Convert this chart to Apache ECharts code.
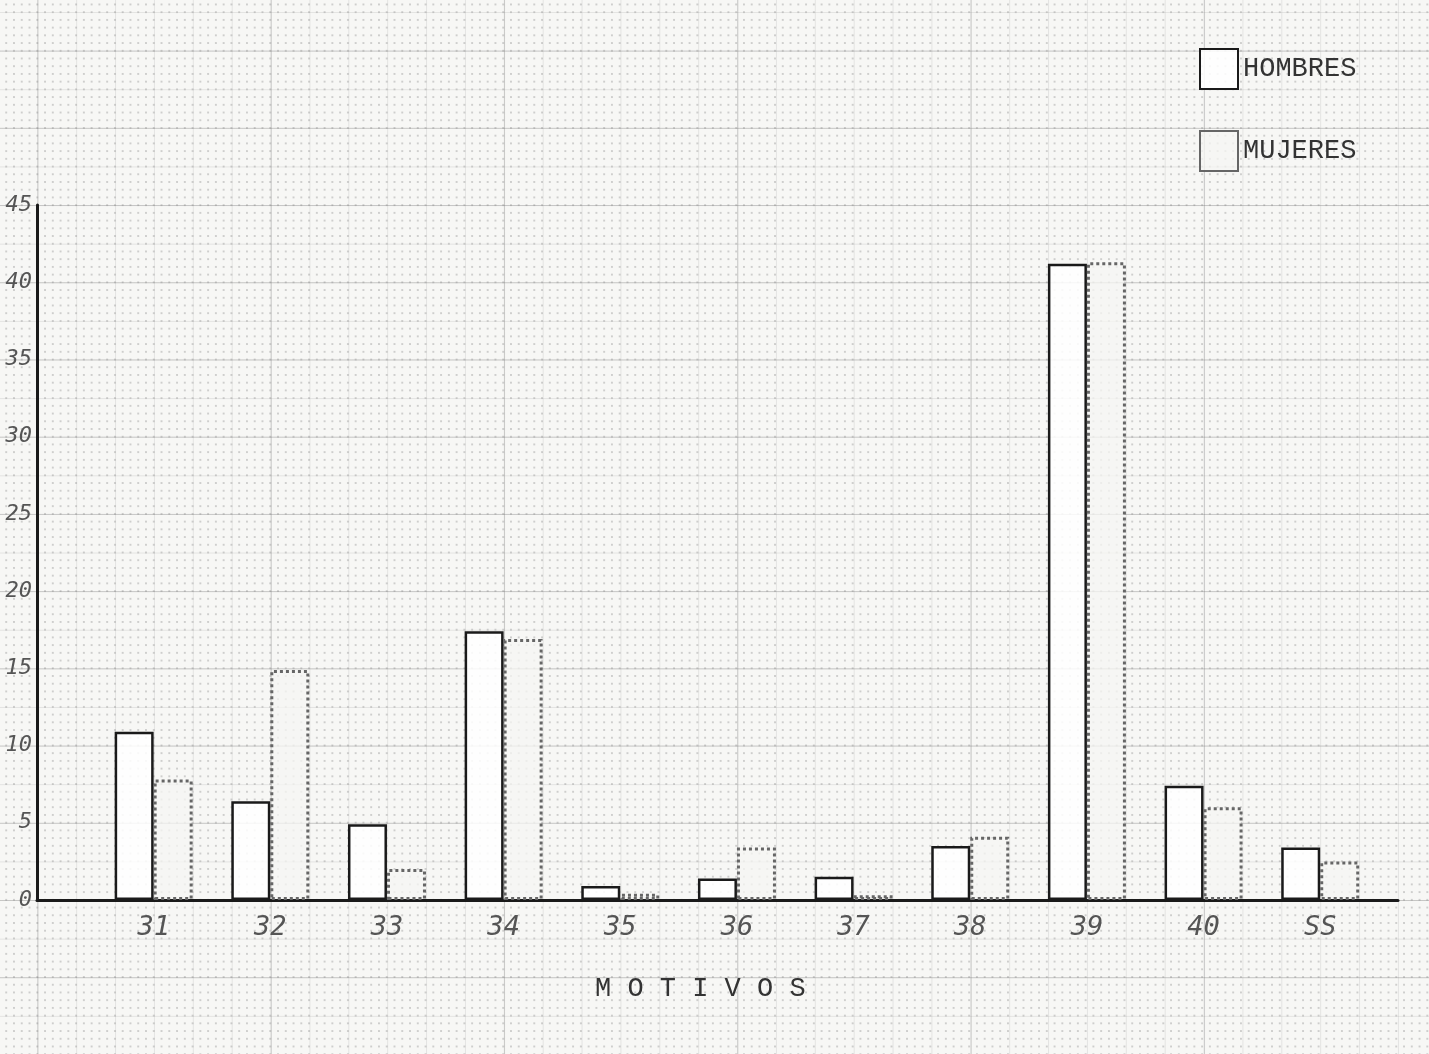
<!DOCTYPE html>
<html>
<head>
<meta charset="utf-8">
<script src="https://cdn.jsdelivr.net/npm/echarts@6/dist/echarts.min.js"></script>
<style>
html, body { margin: 0; padding: 0; }
body {
  width: 1429px; height: 1054px; overflow: hidden;
  background-color: #f7f7f5;
  background-image:
    linear-gradient(to right, rgba(120,120,120,0.28) 1px, transparent 1px),
    linear-gradient(to bottom, rgba(120,120,120,0.28) 1px, transparent 1px),
    linear-gradient(to right, rgba(150,150,150,0.20) 1px, transparent 1px),
    linear-gradient(to bottom, rgba(150,150,150,0.20) 1px, transparent 1px),
    radial-gradient(circle, rgba(130,130,130,0.35) 0.8px, transparent 1.1px);
  background-size:
    233.33px 100%,
    100% 77.22px,
    38.89px 100%,
    100% 38.61px,
    7.78px 7.72px;
  background-position:
    37.4px 0,
    0 50.6px,
    37.3px 0,
    0 12px,
    33.4px 0.6px;
}
#chart { position: absolute; left: 0; top: 0; width: 1429px; height: 1054px; }
</style>
</head>
<body>
<div id="chart"></div>
<script>
// Data
const categories = ['31', '32', '33', '34', '35', '36', '37', '38', '39', '40', 'SS'];
const hombres = [10.9, 6.4, 4.9, 17.4, 0.9, 1.4, 1.5, 3.5, 41.2, 7.4, 3.4];
const mujeres = [7.8, 14.9, 2.0, 16.9, 0.4, 3.4, 0.3, 4.1, 41.3, 6.0, 2.5];
const yTicks = [0, 5, 10, 15, 20, 25, 30, 35, 40, 45];
const seriesNames = ['HOMBRES', 'MUJERES'];
const axisName = 'M O T I V O S';

const chart = echarts.init(document.getElementById('chart'));
const option = {
  backgroundColor: 'transparent',
  animation: false,
  title: {
    text: axisName,
    left: 590,
    top: 970,
    textStyle: { fontFamily: 'Liberation Mono', fontSize: 27, fontWeight: 'normal', color: '#333' }
  },
  legend: {
    data: seriesNames,
    orient: 'vertical',
    left: 1199,
    top: 48,
    padding: 0,
    itemWidth: 38,
    itemHeight: 40,
    itemGap: 40,
    icon: 'rect',
    textStyle: { fontFamily: 'Liberation Mono', fontSize: 27, color: '#333' }
  },
  grid: { left: 37, right: 31, top: 205, bottom: 154, containLabel: false },
  xAxis: {
    type: 'value',
    min: -1,
    max: 32 / 3,
    interval: 1,
    axisLine: { show: true, onZero: false, lineStyle: { color: '#1a1a1a', width: 3 } },
    axisTick: { show: false },
    splitLine: { show: false },
    axisLabel: {
      margin: 14,
      fontFamily: 'DejaVu Sans Mono',
      fontStyle: 'italic',
      fontSize: 27,
      color: '#555',
      formatter: function (v) {
        const r = Math.round(v);
        if (Math.abs(v - r) > 1e-6) return '';
        return (r >= 0 && r < categories.length) ? categories[r] : '';
      }
    }
  },
  yAxis: {
    type: 'value',
    min: yTicks[0],
    max: yTicks[yTicks.length - 1],
    interval: 5,
    axisLine: { show: true, onZero: false, lineStyle: { color: '#1a1a1a', width: 3 } },
    axisTick: { show: false },
    splitLine: { show: false },
    axisLabel: {
      margin: 5,
      fontFamily: 'DejaVu Sans Mono',
      fontStyle: 'italic',
      fontSize: 22,
      color: '#555'
    }
  },
  series: [
    {
      name: seriesNames[0],
      type: 'bar',
      barWidth: 39,
      barGap: '0%',
      data: hombres.map((v, i) => [i, v]),
      itemStyle: { color: 'rgba(255,255,255,0.85)', borderColor: '#1a1a1a', borderWidth: 2.5 }
    },
    {
      name: seriesNames[1],
      type: 'bar',
      barWidth: 39,
      barGap: '0%',
      data: mujeres.map((v, i) => [i, v]),
      itemStyle: { color: 'rgba(245,245,243,0.75)', borderColor: '#666', borderWidth: 3, borderType: 'dotted' }
    }
  ]
};
chart.setOption(option);
</script>
</body>
</html>
